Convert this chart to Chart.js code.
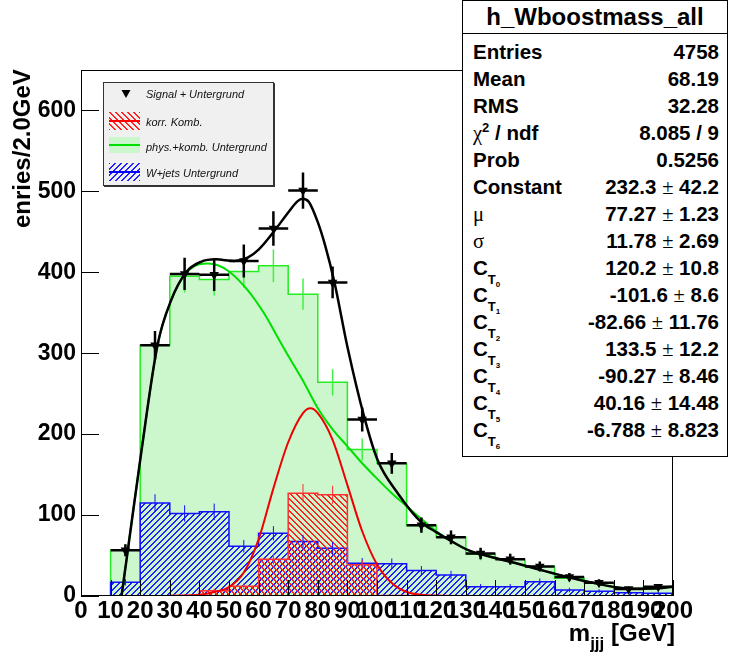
<!DOCTYPE html>
<html><head><meta charset="utf-8">
<script src="https://cdn.jsdelivr.net/npm/chart.js@4.4.1/dist/chart.umd.min.js"></script>
<style>
html,body{margin:0;padding:0;background:#fff;}
#wrap{position:relative;width:729px;height:653px;overflow:hidden;font-family:'Liberation Sans',Arial,Helvetica,sans-serif;color:#000;}
#c{position:absolute;left:0;top:0;}
.ytitle{position:absolute;left:10px;top:228px;transform:rotate(-90deg);transform-origin:0 0;font-weight:bold;font-size:24px;line-height:24px;white-space:nowrap;}
.xtitle{position:absolute;right:54px;top:621px;font-weight:bold;font-size:24px;line-height:24px;white-space:nowrap;}
.xtitle .sub{font-size:17px;position:relative;top:8px;}
#leg{position:absolute;left:103px;top:82px;width:171px;height:104px;box-sizing:border-box;background:#f0f0f0;border:1px solid #333;box-shadow:1px 1px 0 #333;}
#leg canvas{position:absolute;}
#leg .lt{position:absolute;left:42px;font-style:italic;font-size:11px;line-height:14px;white-space:nowrap;color:#111;}
#stats{position:absolute;left:462px;top:0;width:266px;height:457px;box-sizing:border-box;border:1px solid #000;background:#fff;font-weight:bold;font-size:20.5px;}
#stats .tt{position:absolute;left:0;right:0;top:0;height:32px;line-height:32px;border-bottom:1px solid #000;text-align:center;font-size:24px;}
#stats .row{position:absolute;left:10px;right:8px;height:24px;line-height:24px;white-space:nowrap;}
#stats .l{position:absolute;left:0;top:0;}
#stats .r{position:absolute;right:0;top:0;}
.sym{font-family:'Liberation Serif','Times New Roman',serif;font-weight:normal;}
.pm{font-family:'Liberation Serif','Times New Roman',serif;font-weight:normal;}
.t{font-size:13px;position:relative;top:9px;}
.d{font-size:8px;position:relative;top:3px;}
.sp{font-size:13px;position:relative;top:-8px;}
</style>
</head><body>
<div id="wrap">
<canvas id="c" width="729" height="653"></canvas>
<div class="ytitle">enries/2.0GeV</div>
<div class="xtitle">m<span class="sub">jjj</span> [GeV]</div>
<div id="leg">
  <canvas id="sw0" width="16" height="14" style="left:14px;top:4px"></canvas>
  <div class="lt" style="top:4px">Signal + Untergrund</div>
  <canvas id="sw1" width="31" height="18" style="left:5px;top:29px"></canvas>
  <div class="lt" style="top:32px">korr. Komb.</div>
  <canvas id="sw2" width="31" height="16" style="left:5px;top:54px"></canvas>
  <div class="lt" style="top:57px">phys.+komb. Untergrund</div>
  <canvas id="sw3" width="31" height="18" style="left:5px;top:80px"></canvas>
  <div class="lt" style="top:83px">W+jets Untergrund</div>
</div>
<div id="stats">
  <div class="tt">h_Wboostmass_all</div>
  <div class="row" style="top:39px"><span class="l">Entries</span><span class="r">4758</span></div>
  <div class="row" style="top:66px"><span class="l">Mean</span><span class="r">68.19</span></div>
  <div class="row" style="top:93px"><span class="l">RMS</span><span class="r">32.28</span></div>
  <div class="row" style="top:120px"><span class="l"><span class="sym">χ</span><span class="sp">2</span> / ndf</span><span class="r">8.085 / 9</span></div>
  <div class="row" style="top:147px"><span class="l">Prob</span><span class="r">0.5256</span></div>
  <div class="row" style="top:174px"><span class="l">Constant</span><span class="r">232.3 <span class="pm">±</span> 42.2</span></div>
  <div class="row" style="top:201px"><span class="l"><span class="sym">μ</span></span><span class="r">77.27 <span class="pm">±</span> 1.23</span></div>
  <div class="row" style="top:228px"><span class="l"><span class="sym">σ</span></span><span class="r">11.78 <span class="pm">±</span> 2.69</span></div>
  <div class="row" style="top:255px"><span class="l">C<span class="t">T<span class="d">0</span></span></span><span class="r">120.2 <span class="pm">±</span> 10.8</span></div>
  <div class="row" style="top:282px"><span class="l">C<span class="t">T<span class="d">1</span></span></span><span class="r">-101.6 <span class="pm">±</span> 8.6</span></div>
  <div class="row" style="top:309px"><span class="l">C<span class="t">T<span class="d">2</span></span></span><span class="r">-82.66 <span class="pm">±</span> 11.76</span></div>
  <div class="row" style="top:336px"><span class="l">C<span class="t">T<span class="d">3</span></span></span><span class="r">133.5 <span class="pm">±</span> 12.2</span></div>
  <div class="row" style="top:363px"><span class="l">C<span class="t">T<span class="d">4</span></span></span><span class="r">-90.27 <span class="pm">±</span> 8.46</span></div>
  <div class="row" style="top:390px"><span class="l">C<span class="t">T<span class="d">5</span></span></span><span class="r">40.16 <span class="pm">±</span> 14.48</span></div>
  <div class="row" style="top:417px"><span class="l">C<span class="t">T<span class="d">6</span></span></span><span class="r">-6.788 <span class="pm">±</span> 8.823</span></div>
</div>
</div>
<script>
// ---- data ----
const binEdges = [0,10,20,30,40,50,60,70,80,90,100,110,120,130,140,150,160,170,180,190,200];
const dataCounts  = [0, 56.5, 310, 398, 397, 414, 454, 501, 387.5, 218, 164, 87.5, 72.5, 52.5, 45.5, 36.5, 23.5, 16.5, 8.5, 11.5];
const dataErr     = [0, 7.5, 17.6, 20, 20, 20.3, 21.3, 22.4, 19.7, 14.8, 12.8, 9.4, 8.5, 7.2, 6.7, 6.0, 4.8, 4.1, 2.9, 3.4];
const physCounts  = [0, 56.5, 310, 395, 391, 401, 408, 373, 264, 181, 164, 87, 72.5, 51.5, 45.5, 36.5, 22, 16, 8.5, 11.5];
const physErr     = [0, 7.5, 17.6, 19.9, 19.8, 20, 20.2, 19.3, 16.2, 13.5, 12.8, 9.3, 8.5, 7.2, 6.7, 6.0, 4.7, 4.0, 2.9, 3.4];
const wjetsCounts = [0, 17, 115, 102, 104, 61.5, 77.5, 67.5, 59, 40.5, 40, 31.5, 26, 11.5, 11.5, 17.5, 7.5, 6, 4, 3.5];
const wjetsErr    = [0, 4.1, 10.7, 10.1, 10.2, 7.8, 8.8, 8.2, 7.7, 6.4, 6.3, 5.6, 5.1, 3.4, 3.4, 4.2, 2.7, 2.4, 2.0, 1.9];
const kombCounts  = [0, 0, 0, 1, 6.5, 12, 45.5, 127, 125, 38.5, 0.5, 0, 0, 0, 0, 0, 0, 0, 0, 0];
const kombErr     = [0, 0, 0, 1, 2.5, 3.5, 6.7, 11.3, 11.2, 6.2, 0.7, 0, 0, 0, 0, 0, 0, 0, 0, 0];
// fit curves
const totalFitX = [13.7,15.8,20.3,25.9,30.4,35.5,40.5,45.6,51.8,56.3,60,65.3,70,73.2,74.8,77,80,82.5,85.6,90,95.7,100.2,107,115,120,125,130.6,140,146.4,155,164.4,172,181.3,187,195,200];
const totalFitY = [0,56,176,311,365,400,413,416,414,418,428,451,474,488,491,487,462,433,388,308,221,168,127,91,79,68,57,47,41,32.5,23.5,17,10.5,9,9.5,11.5];
const bkgFitX = [13.7,15.8,20.3,25.9,30.4,35.5,40,43,46,50,56.3,61.9,67,70,75,80,85,90,95,100,105,110,116,120,125,130.6,140,146.4,155,164.4,172,181.3,187,195,200];
const bkgFitY = [0,56,176,311,365,399,410,411,409,401,378,349,316,297,266,232,206,185,164,145,127,111,92,80,68,57,47,41,32.5,23.5,17,10.5,9,9.5,11.5];
const sigFitX = [0,30,40,45,50,55,60,65,70,75,77.5,80,85,90,95,100,105,110,120,130,200];
const sigFitY = [0,0,1.5,5,11,29,70,133,190,226,232,226,193,137,80,39,16,5,0.5,0,0];

// ---- helpers building library data ----
function stepPoints(vals){
  const pts=[{x:binEdges[0],y:0}];
  vals.forEach((v,i)=>{pts.push({x:binEdges[i],y:v});pts.push({x:binEdges[i+1],y:v});});
  pts.push({x:binEdges[binEdges.length-1],y:0});
  return pts;
}
function vErr(vals,errs){
  const pts=[];
  vals.forEach((v,i)=>{ if(errs[i]>0){ const c=(binEdges[i]+binEdges[i+1])/2;
    pts.push({x:c,y:v-errs[i]},{x:c,y:v+errs[i]},{x:c,y:null}); }});
  return pts;
}
function hErr(vals){
  const pts=[];
  vals.forEach((v,i)=>{ if(v>0){ pts.push({x:binEdges[i],y:v},{x:binEdges[i+1],y:v},{x:binEdges[i+1],y:null}); }});
  return pts;
}
function markers(vals){
  return vals.map((v,i)=>({x:(binEdges[i]+binEdges[i+1])/2,y:v>0?v:null}));
}
function curve(xs,ys){ return xs.map((x,i)=>({x:x,y:ys[i]})); }

// hatch patterns: 2px diagonal lines, 6px period, transparent between
function makeHatch(g,kind,color){
  const s=6;
  const cv=document.createElement('canvas');
  cv.width=s;cv.height=s;
  const p=cv.getContext('2d');
  p.fillStyle=color;
  for(let i=0;i<s;i++){
    if(kind==='/'){ p.fillRect(i,s-1-i,1,1); p.fillRect((i+1)%s,s-1-i,1,1); }
    else { p.fillRect(i,i,1,1); p.fillRect((i+1)%s,i,1,1); }
  }
  return g.createPattern(cv,'repeat');
}

const canvas=document.getElementById('c');
const ctx=canvas.getContext('2d');
const greenFill='rgb(204,246,204)';
const bluePat=makeHatch(ctx,'/','#2020ff');
const redPat=makeHatch(ctx,'\\','#ff2020');

Chart.defaults.font.family="'Liberation Sans', Arial, Helvetica, sans-serif";

const base={pointRadius:0,tension:0,fill:false,spanGaps:false};
const framePlugin={
  id:'rootFrame',
  afterDatasetsDraw(chart){
    const {ctx:c,chartArea:a,scales:{x,y}}=chart;
    c.save();
    c.strokeStyle='#000';c.lineWidth=1;c.beginPath();
    y.ticks.forEach(t=>{const py=Math.round(y.getPixelForValue(t.value))+0.5;c.moveTo(a.left,py);c.lineTo(a.left+18,py);});
    x.ticks.forEach(t=>{const px=Math.round(x.getPixelForValue(t.value))+0.5;c.moveTo(px,a.bottom);c.lineTo(px,a.bottom-16);});
    c.stroke();
    c.strokeRect(Math.round(a.left)+0.5,Math.round(a.top)+0.5,Math.round(a.width)-1,Math.round(a.height)-1);
    c.restore();
  }
};

new Chart(ctx,{
  type:'line',
  data:{datasets:[
    Object.assign({},base,{label:'phys.+komb. Untergrund',data:stepPoints(physCounts),borderColor:'#22ee22',borderWidth:1.5,backgroundColor:greenFill,fill:'origin',order:20}),
    Object.assign({},base,{label:'W+jets Untergrund',data:stepPoints(wjetsCounts),borderColor:'#1010ff',borderWidth:1.5,backgroundColor:bluePat,fill:'origin',order:19}),
    Object.assign({},base,{label:'korr. Komb.',data:stepPoints(kombCounts),borderColor:'#ff3030',borderWidth:1.5,backgroundColor:redPat,fill:'origin',order:18}),
    Object.assign({},base,{label:'phys err',data:vErr(physCounts,physErr),borderColor:'#44ee44',borderWidth:1.5,order:17}),
    Object.assign({},base,{label:'wjets err',data:vErr(wjetsCounts,wjetsErr),borderColor:'#1010ff',borderWidth:1,order:16}),
    Object.assign({},base,{label:'komb err',data:vErr(kombCounts,kombErr),borderColor:'#ff3030',borderWidth:1,order:15}),
    Object.assign({},base,{label:'bkg fit',data:curve(bkgFitX,bkgFitY),borderColor:'#00e000',borderWidth:2,cubicInterpolationMode:'monotone',order:14}),
    Object.assign({},base,{label:'signal fit',data:curve(sigFitX,sigFitY),borderColor:'#f00000',borderWidth:2,cubicInterpolationMode:'monotone',order:13}),
    Object.assign({},base,{label:'total fit',data:curve(totalFitX,totalFitY),borderColor:'#000',borderWidth:2.5,cubicInterpolationMode:'monotone',order:12}),
    Object.assign({},base,{label:'data v err',data:vErr(dataCounts,dataErr),borderColor:'#000',borderWidth:2.5,order:3}),
    Object.assign({},base,{label:'data h err',data:hErr(dataCounts),borderColor:'#000',borderWidth:2.5,order:2}),
    {label:'Signal + Untergrund',data:markers(dataCounts),showLine:false,pointStyle:'triangle',rotation:180,pointRadius:5.5,pointBackgroundColor:'#000',pointBorderColor:'#000',pointBorderWidth:0,order:1}
  ]},
  options:{
    responsive:false,animation:false,events:[],
    layout:{padding:{left:0,top:70,right:56,bottom:0}},
    plugins:{legend:{display:false},tooltip:{enabled:false}},
    scales:{
      x:{type:'linear',min:0,max:200,afterFit(s){s.height=57;},
         grid:{display:false,drawTicks:false},border:{display:false},
         ticks:{stepSize:10,maxTicksLimit:25,autoSkip:false,maxRotation:0,minRotation:0,includeBounds:false,padding:1,color:'#000',font:{size:24,weight:'bold'}}},
      y:{type:'linear',min:0,max:650,afterFit(s){s.width=81;},
         grid:{display:false,drawTicks:false},border:{display:false},
         ticks:{stepSize:100,maxTicksLimit:25,includeBounds:false,padding:5,color:'#000',font:{size:23,weight:'bold'}}}
    }
  },
  plugins:[framePlugin]
});

// legend swatches
(function(){
  const m=document.getElementById('sw0').getContext('2d');
  m.fillStyle='#000';m.beginPath();m.moveTo(3.5,3);m.lineTo(12.5,3);m.lineTo(8,11);m.closePath();m.fill();
  function sw(id,fillStyleFn,lc){
    const cv=document.getElementById(id);const g=cv.getContext('2d');
    g.fillStyle=fillStyleFn(g);g.fillRect(0,0,cv.width,cv.height);
    g.strokeStyle=lc;g.lineWidth=2;g.beginPath();g.moveTo(0,cv.height/2);g.lineTo(cv.width,cv.height/2);g.stroke();
  }
  sw('sw1',g=>makeHatch(g,'\\','#ff2020'),'#ff0000');
  sw('sw2',()=>greenFill,'#00e000');
  sw('sw3',g=>makeHatch(g,'/','#2020ff'),'#0000ff');
})();
</script>
</body></html>
